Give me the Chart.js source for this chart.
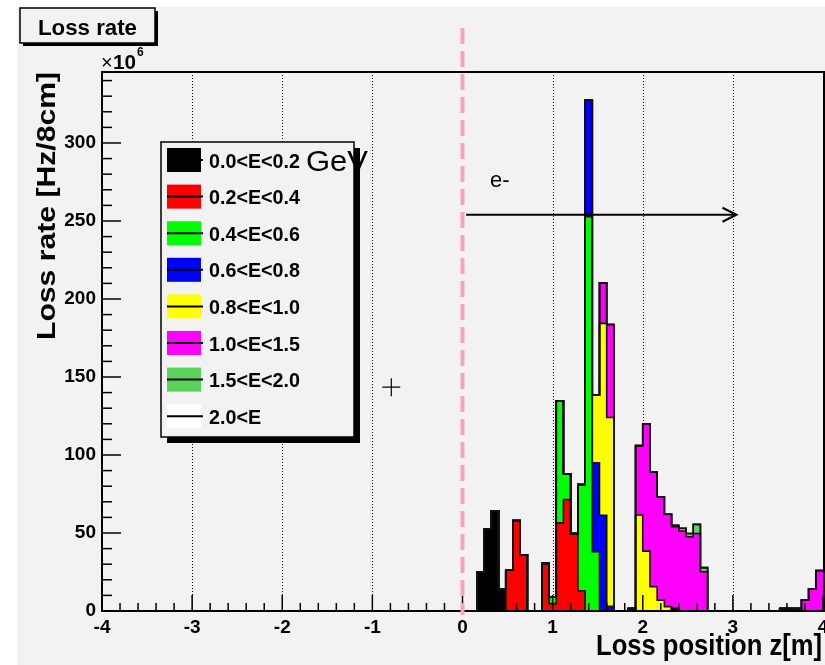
<!DOCTYPE html>
<html><head><meta charset="utf-8">
<script src="https://cdn.jsdelivr.net/npm/chart.js@4.4.1/dist/chart.umd.min.js"></script>
<style>html,body{margin:0;padding:0;background:#fff;}canvas{display:block;}</style>
</head><body>
<canvas id="c" width="825" height="665"></canvas>
<script>
// ---- histogram binning (100 bins of 8 cm from -4 m to 4 m)
const binStart = -4, binWidth = 0.08, nBins = 100;

// ---- series (energy ranges)
const seriesLabels = ['0.0<E<0.2','0.2<E<0.4','0.4<E<0.6','0.6<E<0.8','0.8<E<1.0','1.0<E<1.5','1.5<E<2.0','2.0<E'];
const seriesColors = ['#000000','#ff0000','#00ff00','#0000ff','#ffff00','#ff00ff','#5ad35a','#ffffff'];

// lower bin edge z [m] of each non-empty bin, and its loss rate [x10^6 Hz/8cm]
const e00_z = [0.16,0.24,0.32,0.40,1.84,2.32,3.52,3.60,3.68];
const e00_v = [25,52.6,64,14,1.5,1.5,1.5,1.5,1.5];
const e02_z = [0.48,0.56,0.64,0.88,0.96,1.04,1.12,1.20,1.28];
const e02_v = [26.3,58,36,30.5,4.7,56.5,71.5,49.7,13];
const e04_z = [0.96,1.04,1.12,1.28,1.36,1.44];
const e04_v = [4.3,78.3,16.5,68,252.7,38];
const e06_z = [1.36,1.44,1.52,1.60];
const e06_v = [74.7,57,61.4,3];
const e08_z = [1.44,1.52,1.60,1.92,2.00,2.08,2.16,2.24];
const e08_v = [43.5,123,121,61.5,38.4,15.6,7,2.8];
const e10_z = [1.52,1.60,1.92,2.00,2.08,2.16,2.24,2.32,2.40,2.48,2.56,2.64,3.76,3.84,3.92];
const e10_v = [26,59.6,44.5,81.6,73.4,66,59.2,52.5,51.3,47.6,49.7,25.2,7,14,26];
const e15_z = [2.32,2.40,2.48,2.56,2.64];
const e15_v = [1,1.7,2.1,5.8,2.6];
const e20_z = [];
const e20_v = [];

// ---- axis ticks / labels
const xMin = -4, xMax = 4, xMinorStep = 0.2;
const yMin = 0, yMax = 345.5, yMinorStep = 10, yLabelStep = 50;
const gridAt = [-3,-2,-1,1,2,3];

// ---- annotations (data coordinates)
const arrowFrom = {z: 0.04, v: 254};
const arrowTo = {z: 3.04, v: 254};
const crossAt = {z: -0.79, v: 143.5};
const eLabel = {text: 'e-', z: 0.305, v: 272};
const dashedAt = 0;

const FONT = '"Liberation Sans", Arial, Helvetica, sans-serif';

const zSets = [e00_z,e02_z,e04_z,e06_z,e08_z,e10_z,e15_z,e20_z];
const vSets = [e00_v,e02_v,e04_v,e06_v,e08_v,e10_v,e15_v,e20_v];
function toBins(zs, vs){
  const a = new Array(nBins).fill(0);
  zs.forEach((z,i)=>{ a[Math.round((z-binStart)/binWidth)] = vs[i]; });
  return a;
}
const binned = zSets.map((z,i)=>toBins(z, vSets[i]));
const cums = [];
binned.forEach((b,i)=>{ cums.push(b.map((v,k)=> v + (i? cums[i-1][k] : 0))); });

const datasets = [];
binned.forEach((b,i)=>{
  datasets.push({type:'bar', label: seriesLabels[i], order:1,
    data: b.map((v,k)=>({x: binStart + (k+0.5)*binWidth, y: v})),
    backgroundColor: seriesColors[i], borderWidth: 0,
    barPercentage: 1, categoryPercentage: 1});
});
cums.forEach((c,i)=>{
  const pts = [];
  for (let k=0;k<=nBins;k++) pts.push({x: binStart + k*binWidth, y: c[Math.min(k,nBins-1)]});
  datasets.push({type:'line', label: 'outline'+i, order:0, stack:'outline'+i,
    data: pts, stepped: 'before', borderColor:'#111', borderWidth:1.6,
    pointRadius:0, fill:false});
});

function fitText(ctx, text, x, y, font, width, align, rot){
  ctx.save();
  ctx.font = font;
  const w = ctx.measureText(text).width;
  const s = width ? width / w : 1;
  ctx.translate(x, y);
  if (rot) ctx.rotate(rot);
  ctx.scale(s, 1);
  ctx.textAlign = align || 'left';
  ctx.textBaseline = 'alphabetic';
  ctx.fillStyle = '#000';
  ctx.fillText(text, 0, 0);
  ctx.restore();
  return s;
}

const deco = {
  id: 'deco',
  beforeDraw(chart){
    const ctx = chart.ctx;
    ctx.save();
    ctx.fillStyle = '#ffffff'; ctx.fillRect(0,0,chart.width,chart.height);
    ctx.fillStyle = '#f2f2f2'; ctx.fillRect(17,7,chart.width-17,chart.height-7);
    ctx.restore();
  },
  beforeDatasetsDraw(chart){
    const {ctx, chartArea:a, scales:{x}} = chart;
    ctx.save();
    ctx.strokeStyle = '#000'; ctx.lineWidth = 1; ctx.setLineDash([1,2]);
    gridAt.forEach(v=>{
      const px = Math.round(x.getPixelForValue(v)) + 0.5;
      ctx.beginPath(); ctx.moveTo(px, a.top); ctx.lineTo(px, a.bottom); ctx.stroke();
    });
    ctx.restore();
  },
  afterDatasetsDraw(chart){
    const {ctx, chartArea:a, scales:{x, y}} = chart;
    ctx.save();
    // frame
    ctx.strokeStyle = '#000'; ctx.lineWidth = 2;
    ctx.strokeRect(a.left, a.top, a.right - a.left + 1, a.bottom - a.top);
    // ticks
    ctx.lineWidth = 1.5;
    x.ticks.forEach(t=>{
      const px = x.getPixelForValue(t.value);
      const major = Math.abs(t.value - Math.round(t.value)) < 1e-6;
      ctx.beginPath(); ctx.moveTo(px, a.bottom); ctx.lineTo(px, a.bottom - (major?16:8)); ctx.stroke();
    });
    y.ticks.forEach(t=>{
      const py = y.getPixelForValue(t.value);
      const major = Math.abs(t.value % yLabelStep) < 1e-6;
      ctx.beginPath(); ctx.moveTo(a.left, py); ctx.lineTo(a.left + (major?19:10), py); ctx.stroke();
    });
    // pink dashed line
    const p0 = x.getPixelForValue(dashedAt);
    ctx.strokeStyle = '#f7a1c4'; ctx.lineWidth = 4; ctx.setLineDash([16,7]);
    ctx.beginPath(); ctx.moveTo(p0, 28); ctx.lineTo(p0, a.bottom + 4); ctx.stroke();
    ctx.setLineDash([]);

    // arrow
    const ax0 = x.getPixelForValue(arrowFrom.z), ay = y.getPixelForValue(arrowFrom.v);
    const ax1 = x.getPixelForValue(arrowTo.z);
    ctx.strokeStyle = '#000'; ctx.lineWidth = 2;
    ctx.beginPath(); ctx.moveTo(ax0, ay); ctx.lineTo(ax1, ay); ctx.stroke();
    ctx.beginPath(); ctx.moveTo(ax1-14, ay-7); ctx.lineTo(ax1, ay); ctx.lineTo(ax1-14, ay+7); ctx.stroke();
    // cross
    const cx = x.getPixelForValue(crossAt.z), cy = y.getPixelForValue(crossAt.v);
    ctx.lineWidth = 1.2;
    ctx.beginPath(); ctx.moveTo(cx-9, cy); ctx.lineTo(cx+9, cy); ctx.moveTo(cx, cy-9); ctx.lineTo(cx, cy+9); ctx.stroke();
    // e-
    fitText(ctx, eLabel.text, x.getPixelForValue(eLabel.z), y.getPixelForValue(eLabel.v), '22px ' + FONT, 0, 'left');

    // legend
    const L = {x0:161, y0:142, x1:354, y1:437};
    ctx.fillStyle = '#000'; ctx.fillRect(L.x0+6, L.y0+6, L.x1-L.x0, L.y1-L.y0);
    ctx.fillStyle = '#f2f2f2'; ctx.fillRect(L.x0, L.y0, L.x1-L.x0, L.y1-L.y0);
    ctx.strokeStyle = '#000'; ctx.lineWidth = 1.5; ctx.strokeRect(L.x0, L.y0, L.x1-L.x0, L.y1-L.y0);
    let sc = null;
    seriesLabels.forEach((lab,i)=>{
      const ey = 160 + 36.6*i;
      ctx.fillStyle = seriesColors[i]; ctx.fillRect(167, ey-12, 34, 24);
      ctx.strokeStyle = '#000'; ctx.lineWidth = 2;
      ctx.beginPath(); ctx.moveTo(167, ey); ctx.lineTo(203, ey); ctx.stroke();
      ctx.font = 'bold 21px ' + FONT;
      if (sc === null) sc = 91 / ctx.measureText(lab).width;
      const w = ctx.measureText(lab).width * sc;
      fitText(ctx, lab, 209, ey + 7.5, 'bold 21px ' + FONT, w, 'left');
    });
    // GeV
    fitText(ctx, 'GeV', 306, 171, '30px ' + FONT, 62, 'left');

    // title box
    ctx.fillStyle = '#000'; ctx.fillRect(23, 11, 135, 35);
    ctx.fillStyle = '#f2f2f2'; ctx.fillRect(20, 8, 135, 35);
    ctx.strokeStyle = '#000'; ctx.lineWidth = 1.5; ctx.strokeRect(20, 8, 135, 35);
    fitText(ctx, 'Loss rate', 87.5, 34.5, 'bold 22px ' + FONT, 99, 'center');
    // x10^6
    fitText(ctx, '\u00d7', 101, 69, '20px ' + FONT, 0, 'left');
    fitText(ctx, '10', 113, 69, 'bold 20px ' + FONT, 23, 'left');
    fitText(ctx, '6', 137, 56, 'bold 12px ' + FONT, 0, 'left');
    // axis titles
    fitText(ctx, 'Loss rate [Hz/8cm]', 55, 340, 'bold 26px ' + FONT, 268, 'left', -Math.PI/2);
    fitText(ctx, 'Loss position z[m]', 822, 655, 'bold 30px ' + FONT, 226, 'right');
    ctx.restore();
  }
};

new Chart(document.getElementById('c'), {
  data: {datasets},
  options: {
    responsive: false, animation: false, devicePixelRatio: 1,
    layout: {padding: {top: 72, right: 2, bottom: 0, left: 0}},
    plugins: {legend: {display: false}, tooltip: {enabled: false}},
    scales: {
      x: {type: 'linear', min: xMin, max: xMax, offset: false, stacked: true,
        afterBuildTicks(s){ const t=[]; for(let v=xMin; v<=xMax+1e-9; v+=xMinorStep) t.push({value: Math.round(v*10)/10}); s.ticks = t; },
        afterFit(s){ s.height = 54; s.paddingLeft = 0; s.paddingRight = 0; },
        grid: {display: false, drawTicks: false}, border: {display: false},
        ticks: {autoSkip: false, maxRotation: 0, padding: 5, color: '#000',
          font: {family: FONT, size: 19, weight: 'bold'},
          callback: v => Number.isInteger(Math.round(v*1000)/1000) && Math.abs(v-Math.round(v))<1e-6 ? String(Math.round(v)) : ''}},
      y: {type: 'linear', min: yMin, max: yMax, stacked: true,
        afterBuildTicks(s){ const t=[]; for(let v=yMin; v<=yMax; v+=yMinorStep) t.push({value: v}); s.ticks = t; },
        afterFit(s){ s.width = 102; s.paddingTop = 0; s.paddingBottom = 0; },
        grid: {display: false, drawTicks: false}, border: {display: false},
        ticks: {autoSkip: false, padding: 6, color: '#000',
          font: {family: FONT, size: 19, weight: 'bold'},
          callback: v => (v % yLabelStep === 0) ? String(v) : ''}}
    }
  },
  plugins: [deco]
});
</script>
</body></html>
